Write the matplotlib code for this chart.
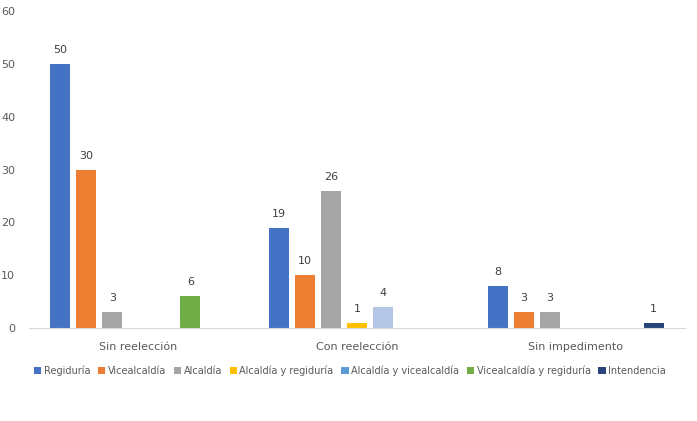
import matplotlib
matplotlib.use("Agg")
import matplotlib.pyplot as plt
from matplotlib.patches import Patch
import numpy as np

categories = ["Sin reelección", "Con reelección", "Sin impedimento"]
series = ["Regiduría", "Vicealcaldía", "Alcaldía", "Alcaldía y regiduría",
          "Alcaldía y vicealcaldía", "Vicealcaldía y regiduría", "Intendencia"]
values = {
    "Regiduría": [50, 19, 8],
    "Vicealcaldía": [30, 10, 3],
    "Alcaldía": [3, 26, 3],
    "Alcaldía y regiduría": [0, 1, 0],
    "Alcaldía y vicealcaldía": [0, 4, 0],
    "Vicealcaldía y regiduría": [6, 0, 0],
    "Intendencia": [0, 0, 1],
}
bar_colors = ["#4472C4", "#ED7D31", "#A5A5A5", "#FFC000", "#B4C7E7", "#70AD47", "#264478"]
legend_colors = ["#4472C4", "#ED7D31", "#A5A5A5", "#FFC000", "#5B9BD5", "#70AD47", "#264478"]

fig = plt.figure(figsize=(6.97, 4.21), dpi=100)
ax = fig.add_axes([29/697, 1-328/421, (685-29)/697, (328-11.2)/421])

txt = "#595959"
x = np.arange(len(categories))
step = 26/218.7
width = 20/218.7
n = len(series)
for i, s in enumerate(series):
    offs = (i - (n-1)/2) * step
    vals = values[s]
    bars = ax.bar(x + offs, vals, width=width, color=bar_colors[i])
    for b, v in zip(bars, vals):
        if v > 0:
            ax.annotate(str(v), (b.get_x()+b.get_width()/2, v), xytext=(0, 6.5),
                        textcoords="offset points", ha="center", va="bottom",
                        fontsize=8, color="#404040")

ax.set_xlim(-0.5, len(categories)-0.5)
ax.set_ylim(0, 60)
ax.set_yticks(range(0, 61, 10))
ax.set_xticks(x)
ax.set_xticklabels(categories)
ax.tick_params(axis="both", length=0, labelsize=8, colors=txt)
ax.tick_params(axis="x", pad=10)
ax.tick_params(axis="y", pad=10)
for sp in ["top", "right", "left"]:
    ax.spines[sp].set_visible(False)
ax.spines["bottom"].set_color("#D9D9D9")

handles = [Patch(facecolor=c, label=s) for c, s in zip(legend_colors, series)]
fig.legend(handles=handles, loc="center", bbox_to_anchor=(350/697, 1-371/421),
           ncol=7, frameon=False, fontsize=7, handlelength=0.75, handleheight=0.75,
           handletextpad=0.25, columnspacing=0.8, labelcolor=txt)

fig.savefig("out.png", dpi=100)
